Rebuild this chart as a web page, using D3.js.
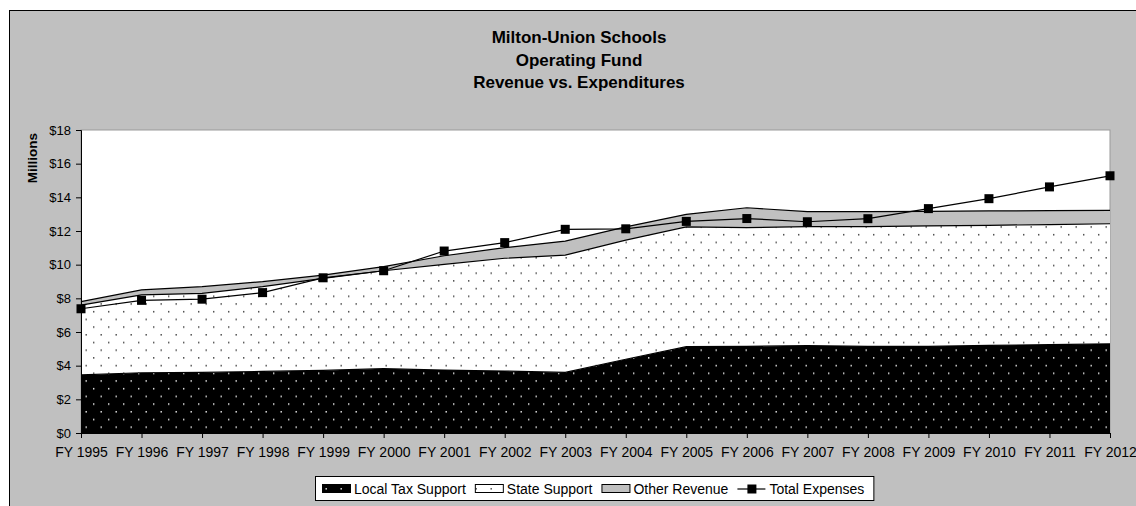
<!DOCTYPE html>
<html lang="en">
<head>
    <meta charset="UTF-8">
    <title>Milton-Union Schools Operating Fund</title>
    <script src="https://cdnjs.cloudflare.com/ajax/libs/d3/7.8.5/d3.min.js"></script>
    <style>
        body { margin: 0; background: #fff; }
        svg { display: block; font-family: "Liberation Sans", Arial, sans-serif; }
    </style>
</head>
<body>
    <div id="chart"></div>
    <script>
        // data (millions of dollars)
        const years = ['FY 1995', 'FY 1996', 'FY 1997', 'FY 1998', 'FY 1999', 'FY 2000', 'FY 2001', 'FY 2002', 'FY 2003',
            'FY 2004', 'FY 2005', 'FY 2006', 'FY 2007', 'FY 2008', 'FY 2009', 'FY 2010', 'FY 2011', 'FY 2012'];
        const localTax = [3.45, 3.58, 3.60, 3.66, 3.72, 3.82, 3.74, 3.68, 3.60, 4.38, 5.13, 5.15, 5.19, 5.15, 5.15, 5.20, 5.25, 5.30];
        const stateSupport = [4.15, 4.62, 4.70, 5.03, 5.47, 5.82, 6.28, 6.70, 6.97, 7.08, 7.12, 7.05, 7.07, 7.11, 7.15, 7.14, 7.13, 7.13];
        const otherRevenue = [0.20, 0.30, 0.39, 0.30, 0.19, 0.24, 0.51, 0.63, 0.83, 0.79, 0.74, 1.18, 0.89, 0.89, 0.87, 0.85, 0.83, 0.80];
        const totalExpenses = [7.38, 7.88, 7.95, 8.34, 9.22, 9.64, 10.81, 11.31, 12.10, 12.13, 12.57, 12.74, 12.55, 12.73, 13.33, 13.92, 14.62, 15.28];
        const yTicks = [0, 2, 4, 6, 8, 10, 12, 14, 16, 18];
        const titleLines = ['Milton-Union Schools', 'Operating Fund', 'Revenue vs. Expenditures'];
        const seriesNames = ['Local Tax Support', 'State Support', 'Other Revenue', 'Total Expenses'];

        const width = 1136;
        const height = 506;
        const plot = {left: 81, right: 1110, top: 130, bottom: 433};

        const svg = d3.select('#chart')
            .append('svg')
            .attr('width', width)
            .attr('height', height);

        // dot patterns
        const defs = svg.append('defs');
        function dotPattern(id, bg, dot) {
            const p = defs.append('pattern')
                .attr('id', id)
                .attr('patternUnits', 'userSpaceOnUse')
                .attr('width', 15)
                .attr('height', 15.4);
            p.append('rect').attr('width', 15).attr('height', 15.4).attr('fill', bg);
            p.append('rect').attr('x', 3).attr('y', 3).attr('width', 1.4).attr('height', 1.4).attr('fill', dot);
            p.append('rect').attr('x', 10.5).attr('y', 10.7).attr('width', 1.4).attr('height', 1.4).attr('fill', dot);
        }
        dotPattern('dotsBlack', '#000', '#fff');
        dotPattern('dotsWhite', '#fff', '#333');

        // chart area
        svg.append('rect')
            .attr('x', 9.5).attr('y', 10.5)
            .attr('width', width + 20).attr('height', height + 20)
            .attr('fill', '#c0c0c0')
            .attr('stroke', '#000');

        svg.append('rect')
            .attr('x', plot.left).attr('y', plot.top)
            .attr('width', plot.right - plot.left).attr('height', plot.bottom - plot.top)
            .attr('fill', '#fff')
            .attr('stroke', '#999');

        const x = d3.scalePoint()
            .domain(years)
            .range([plot.left, plot.right]);

        const y = d3.scaleLinear()
            .domain([0, 18])
            .range([plot.bottom, plot.top]);

        const table = years.map((yr, i) => ({
            year: yr, local: localTax[i], state: stateSupport[i], other: otherRevenue[i]
        }));
        const stacked = d3.stack().keys(['local', 'state', 'other'])(table);
        const fills = ['url(#dotsBlack)', 'url(#dotsWhite)', '#c0c0c0'];

        const area = d3.area()
            .x(d => x(d.data.year))
            .y0(d => y(d[0]))
            .y1(d => y(d[1]));
        const topLine = d3.line()
            .x(d => x(d.data.year))
            .y(d => y(d[1]));

        svg.selectAll('path.area')
            .data(stacked)
            .enter()
            .append('path')
            .attr('class', 'area')
            .attr('d', area)
            .attr('fill', (d, i) => fills[i]);

        svg.selectAll('path.edge')
            .data(stacked)
            .enter()
            .append('path')
            .attr('class', 'edge')
            .attr('d', topLine)
            .attr('fill', 'none')
            .attr('stroke', '#000')
            .attr('stroke-width', 1.2);

        // total expenses line
        const expLine = d3.line()
            .x((d, i) => x(years[i]))
            .y(d => y(d));
        svg.append('path')
            .attr('d', expLine(totalExpenses))
            .attr('fill', 'none')
            .attr('stroke', '#000')
            .attr('stroke-width', 1.2);
        svg.selectAll('rect.marker')
            .data(totalExpenses)
            .enter()
            .append('rect')
            .attr('class', 'marker')
            .attr('x', (d, i) => x(years[i]) - 4.5)
            .attr('y', d => y(d) - 4.5)
            .attr('width', 9)
            .attr('height', 9)
            .attr('fill', '#000');

        // axes
        const yAxis = svg.append('g')
            .attr('transform', `translate(${plot.left},0)`)
            .call(d3.axisLeft(y).tickValues(yTicks).tickSize(5).tickPadding(5).tickFormat(d => '$' + d));
        yAxis.select('.domain').attr('stroke', '#000');
        yAxis.selectAll('text').attr('font-size', 13).attr('fill', '#000');

        const xAxis = svg.append('g')
            .attr('transform', `translate(0,${plot.bottom})`)
            .call(d3.axisBottom(x).tickSize(5).tickPadding(9));
        xAxis.selectAll('text').attr('font-size', 14).attr('fill', '#000');

        // titles
        svg.selectAll('text.title')
            .data(titleLines)
            .enter()
            .append('text')
            .attr('class', 'title')
            .attr('x', 579)
            .attr('y', (d, i) => 43 + i * 22.5)
            .attr('text-anchor', 'middle')
            .attr('font-size', 17)
            .attr('font-weight', 'bold')
            .text(d => d);

        svg.append('text')
            .attr('transform', 'translate(37,158) rotate(-90)')
            .attr('text-anchor', 'middle')
            .attr('font-size', 13.5)
            .attr('font-weight', 'bold')
            .text('Millions');

        // legend
        const legend = svg.append('g');
        const box = legend.append('rect')
            .attr('y', 476.5).attr('height', 24)
            .attr('fill', '#fff').attr('stroke', '#000');
        let lx = 322;
        const ly = 489;
        seriesNames.forEach((name, i) => {
            if (i < 3) {
                legend.append('rect')
                    .attr('x', lx + 0.5).attr('y', ly - 4.5)
                    .attr('width', 28).attr('height', 8)
                    .attr('fill', fills[i])
                    .attr('stroke', '#000');
            } else {
                legend.append('line')
                    .attr('x1', lx).attr('x2', lx + 28)
                    .attr('y1', ly).attr('y2', ly)
                    .attr('stroke', '#000').attr('stroke-width', 1.2);
                legend.append('rect')
                    .attr('x', lx + 10).attr('y', ly - 4.5)
                    .attr('width', 9).attr('height', 9)
                    .attr('fill', '#000');
            }
            const t = legend.append('text')
                .attr('x', lx + 32).attr('y', ly + 5)
                .attr('font-size', 14)
                .text(name);
            lx += 32 + t.node().getComputedTextLength() + 9;
        });
        box.attr('x', 315.5).attr('width', lx - 315);
    </script>
</body>
</html>
